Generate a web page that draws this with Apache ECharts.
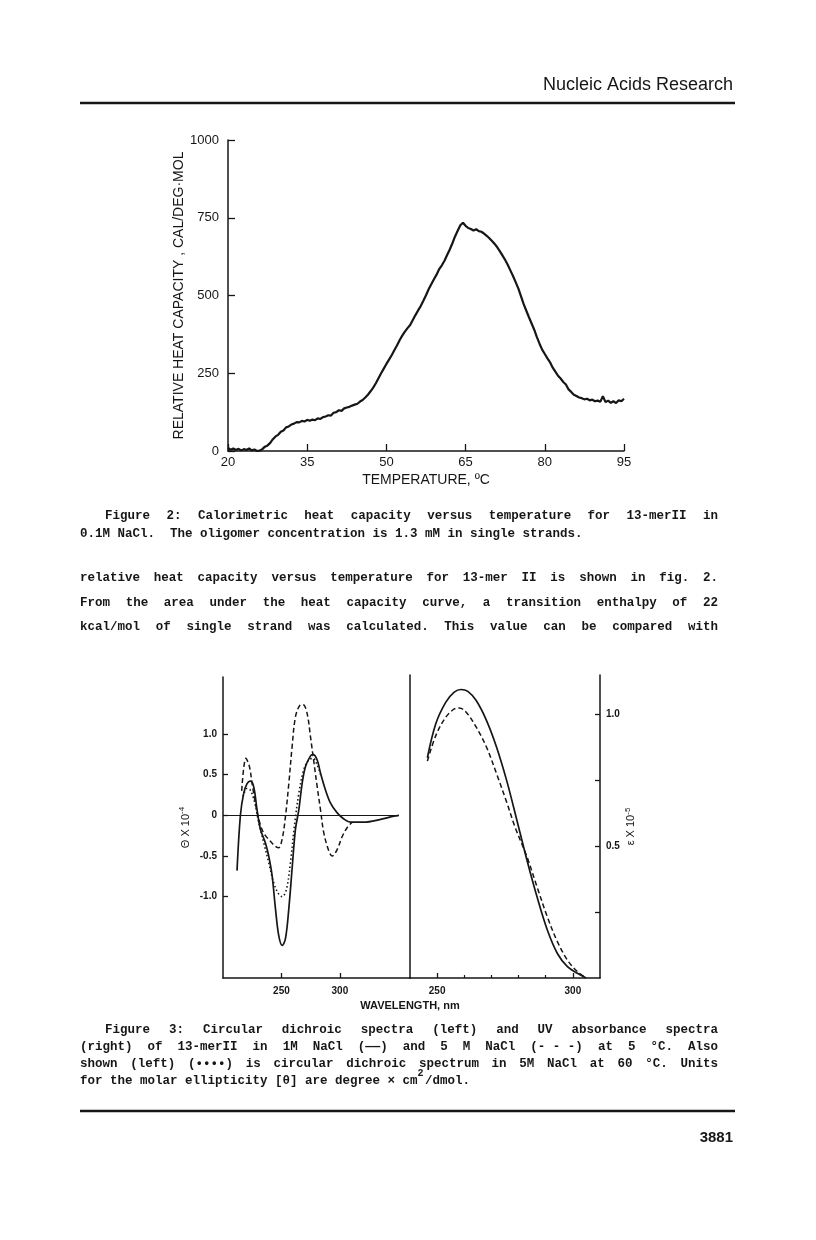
<!DOCTYPE html>
<html>
<head>
<meta charset="utf-8">
<script src="https://cdn.jsdelivr.net/npm/echarts@6/dist/echarts.min.js"></script>
<style>
  html, body { margin: 0; padding: 0; background: #fff; }
  #page { width: 816px; height: 1240px; }
</style>
</head>
<body>
<div id="page"></div>
<script>
// Figure 2: calorimetric heat capacity
const temps = [20, 20.5, 21, 21.5, 22, 22.5, 23, 23.5, 24, 24.5, 25, 25.5, 26, 26.5, 27, 27.5, 28, 28.5, 29, 29.5,
  30, 30.5, 31, 31.5, 32, 32.5, 33, 33.5, 34, 34.5, 35, 35.5, 36, 36.5, 37, 37.5, 38, 38.5, 39, 39.5,
  40, 40.5, 41, 41.5, 42, 42.5, 43, 43.5, 44, 44.5, 45, 45.5, 46, 46.5, 47, 47.5, 48, 48.5, 49, 49.5,
  50, 50.5, 51, 51.5, 52, 52.5, 53, 53.5, 54, 54.5, 55, 55.5, 56, 56.5, 57, 57.5, 58, 58.5, 59, 59.5,
  60, 60.5, 61, 61.5, 62, 62.5, 63, 63.5, 64, 64.5, 65, 65.5, 66, 66.5, 67, 67.5, 68, 68.5, 69, 69.5,
  70, 70.5, 71, 71.5, 72, 72.5, 73, 73.5, 74, 74.5, 75, 75.5, 76, 76.5, 77, 77.5, 78, 78.5, 79, 79.5,
  80, 80.5, 81, 81.5, 82, 82.5, 83, 83.5, 84, 84.5, 85, 85.5, 86, 86.5, 87, 87.5, 88, 88.5, 89, 89.5,
  90, 90.5, 91, 91.5, 92, 92.5, 93, 93.5, 94, 94.5, 95];
const heatCap = [10, 4, 8, 3, 7, 2, 6, 3, 8, 2, 5, 0, 1, 6, 14, 18, 26, 38, 47, 52,
  62, 66, 76, 79, 85, 88, 93, 92, 97, 95, 100, 97, 101, 99, 105, 103, 109, 111, 115, 114,
  123, 125, 131, 129, 137, 140, 142, 146, 149, 152, 159, 164, 172, 181, 192, 204, 218, 234, 250, 265,
  280, 294, 308, 324, 339, 356, 371, 384, 395, 405, 421, 437, 452, 466, 483, 501, 520, 536, 552, 567,
  585, 597, 612, 630, 648, 668, 690, 708, 726, 734, 724, 717, 714, 709, 713, 707, 705, 699, 692, 684,
  675, 666, 655, 642, 628, 614, 598, 580, 562, 542, 522, 497, 472, 451, 430, 410, 390, 366, 345, 326,
  312, 298, 285, 268, 255, 242, 233, 222, 214, 198, 190, 181, 177, 172, 170, 166, 168, 163, 165, 160,
  162, 158, 176, 157, 162, 155, 160, 154, 163, 160, 168];
const tempTicks = [20, 35, 50, 65, 80, 95];

// Figure 3 left: circular dichroism (theta x 10^-4)
const cdWl1M = [212, 214.9, 217.7, 220.6, 223.4, 226.3, 229.1, 232, 236.3, 239.1, 242, 244.9, 247.7, 250.6, 253.4,
  256.3, 259.1, 262, 264.9, 267.7, 270.6, 274.9, 277.1, 280.6, 283.4, 287.7, 292, 297.7, 303.4, 309.1, 320.6, 334.9, 346.3, 350.6];
const cd1M = [-0.68, 0, 0.27, 0.39, 0.42, 0.35, 0.07, -0.17, -0.34, -0.5, -0.74, -1.15, -1.48, -1.6, -1.52,
  -1.15, -0.66, -0.17, 0.07, 0.39, 0.6, 0.73, 0.75, 0.68, 0.52, 0.31, 0.15, 0.03, -0.045, -0.085, -0.085, -0.05, -0.01, 0];
const cdWl5M = [216, 219.6, 222.6, 224.9, 227.7, 230.6, 234.9, 240.6, 244, 247.5, 250.5, 253.4, 256.3, 259.1, 262,
  265.7, 268.6, 272, 274.9, 277.7, 280.6, 283.4, 286.3, 290.6, 293.4, 297.7, 302, 306.3, 310.6];
const cd5M = [0.3, 0.7, 0.6, 0.39, 0.15, -0.05, -0.22, -0.32, -0.37, -0.4, -0.3, -0.02, 0.39, 0.84, 1.21,
  1.35, 1.36, 1.25, 0.96, 0.66, 0.35, 0.07, -0.22, -0.44, -0.5, -0.42, -0.26, -0.15, -0.085];
const cdWlHot = [217.1, 220.6, 223.4, 226.9, 230.6, 234.9, 239.1, 243.4, 247.7, 250.6, 254.3, 257.7, 261.1, 264.9,
  269.1, 273.4, 277.1, 280.6, 283.4];
const cdHot = [0.23, 0.33, 0.31, 0.17, -0.09, -0.34, -0.58, -0.83, -0.97, -1.0, -0.91, -0.58, -0.13, 0.27,
  0.56, 0.68, 0.7, 0.62, 0.5];
const cdTicks = [-1, -0.5, 0, 0.5, 1];
const cdWlTicks = [250, 300];

// Figure 3 right: UV absorbance (epsilon x 10^-5)
const uvWl1M = [246.4, 249.5, 253.2, 256.3, 258.8, 261.3, 264.4, 268.2, 271.9, 275.6, 279.4, 283.1, 286.8, 290.6, 294.3, 298, 301.7, 304.9];
const uv1M = [0.836, 0.965, 1.047, 1.085, 1.095, 1.088, 1.053, 0.977, 0.876, 0.75, 0.598, 0.447, 0.308, 0.182, 0.093, 0.043, 0.018, 0];
const uvWl5M = [246.4, 249.5, 253.2, 256.3, 258.2, 260.7, 264.4, 268.2, 271.9, 275.6, 278.7, 283.1, 286.8, 290.6, 294.3, 298, 301.7, 304.9];
const uv5M = [0.823, 0.92, 0.99, 1.021, 1.025, 1.009, 0.952, 0.876, 0.775, 0.668, 0.573, 0.46, 0.346, 0.232, 0.138, 0.068, 0.024, 0];
const uvTicks = [0.25, 0.5, 0.75, 1];
const uvLabels = [0.5, 1];
const uvWlMajor = [250, 300];
const uvWlMinor = [260, 270, 280, 290];

// page text
const fig2Caption = [
  'Figure 2: Calorimetric heat capacity versus temperature for  13-merII  in',
  '0.1M NaCl.  The oligomer concentration is 1.3 mM in single strands.'
];
const bodyText = [
  'relative heat capacity versus temperature for 13-mer II is shown in fig.  2.',
  'From the area under the heat capacity curve, a transition enthalpy of 22',
  'kcal/mol of single strand was calculated.  This value can be compared with'
];
const fig3Caption = [
  'Figure 3: Circular dichroic spectra (left) and UV absorbance spectra',
  '(right) of 13-merII in 1M NaCl (\u2014\u2014) and 5 M NaCl (-\u00a0-\u00a0-) at 5 \u00b0C. Also',
  'shown (left) (\u2022\u2022\u2022\u2022) is circular dichroic spectrum in 5M NaCl at 60 \u00b0C. Units',
  'for the molar ellipticity [\u03b8] are degree \u00d7 cm /dmol.'
];

const zip = (xs, ys) => xs.map((x, i) => [x, ys[i]]);

const INK = '#161616';
const SANS = '"Liberation Sans", Arial, sans-serif';
const MONO = '"Liberation Mono", monospace';
const MONO_SIZE = 12.5;
const CW = MONO_SIZE * 0.6;

function textEl(str, x, y, opts) {
  return {
    type: 'text', x: x, y: y, silent: true,
    style: Object.assign({
      text: str, fill: INK, fontFamily: MONO, fontSize: MONO_SIZE, fontWeight: 'bold',
      verticalAlign: 'middle', align: 'left'
    }, opts || {})
  };
}

// spread words over [x0, x1] like the typeset justified lines
function justified(line, x0, x1, y) {
  const words = line.split(/ +/);
  const chars = words.reduce((s, w) => s + w.length, 0);
  const gap = (x1 - x0 - chars * CW) / (words.length - 1);
  let x = x0;
  return words.map(w => {
    const el = textEl(w, x, y);
    x += w.length * CW + gap;
    return el;
  });
}

const graphics = [];
graphics.push(textEl('Nucleic Acids Research', 733, 85, { fontFamily: SANS, fontSize: 18, fontWeight: 'normal', align: 'right' }));
graphics.push({ type: 'line', silent: true, shape: { x1: 80, y1: 103, x2: 735, y2: 103 }, style: { stroke: INK, lineWidth: 2.5 } });

graphics.push(...justified(fig2Caption[0], 105, 718, 516));
graphics.push(textEl(fig2Caption[1], 80, 534));

graphics.push(...justified(bodyText[0], 80, 718, 578));
graphics.push(...justified(bodyText[1], 80, 718, 603));
graphics.push(...justified(bodyText[2], 80, 718, 627));

graphics.push(textEl('WAVELENGTH, nm', 410, 1006, { fontFamily: SANS, fontSize: 11, align: 'center' }));

graphics.push(...justified(fig3Caption[0], 105, 718, 1030));
graphics.push(...justified(fig3Caption[1], 80, 718, 1047));
graphics.push(...justified(fig3Caption[2], 80, 718, 1064));
graphics.push(textEl(fig3Caption[3], 80, 1081));
graphics.push(textEl('2', 80 + 45 * CW, 1073, { fontSize: 10 }));

graphics.push({ type: 'line', silent: true, shape: { x1: 80, y1: 1111, x2: 735, y2: 1111 }, style: { stroke: INK, lineWidth: 2.5 } });
graphics.push(textEl('3881', 733, 1138, { fontFamily: SANS, fontSize: 15, align: 'right' }));

const axisLine = { show: true, onZero: false, lineStyle: { color: INK, width: 1.5 } };
const fmt1 = v => (v === 0 ? '0' : v.toFixed(1));

const chart = echarts.init(document.getElementById('page'), null, { renderer: 'canvas' });
chart.setOption({
  animation: false,
  backgroundColor: '#fff',
  textStyle: { fontFamily: SANS, color: INK },
  graphic: { elements: graphics },
  grid: [
    { left: 228, top: 140, width: 396, height: 311 },
    { left: 223, top: 677, width: 187, height: 301 },
    { left: 410, top: 675, width: 190, height: 303 }
  ],
  xAxis: [
    {
      gridIndex: 0, type: 'value', min: 20, max: 95,
      axisLine: axisLine,
      axisTick: { inside: true, length: 7, customValues: tempTicks, lineStyle: { color: INK, width: 1.3 } },
      axisLabel: { customValues: tempTicks, fontSize: 13, color: INK, margin: 5 },
      splitLine: { show: false },
      name: 'TEMPERATURE, \u00baC', nameLocation: 'middle', nameGap: 22,
      nameTextStyle: { fontSize: 14, color: INK }
    },
    {
      gridIndex: 1, type: 'value', min: 200, max: 360,
      axisLine: axisLine,
      axisTick: { inside: true, length: 5, customValues: cdWlTicks, lineStyle: { color: INK, width: 1.3 } },
      axisLabel: { customValues: cdWlTicks, fontSize: 10, fontWeight: 'bold', color: INK, margin: 8 },
      splitLine: { show: false }
    },
    {
      gridIndex: 2, type: 'value', min: 240, max: 310,
      axisLine: axisLine,
      axisTick: { inside: true, length: 5, customValues: uvWlMajor, lineStyle: { color: INK, width: 1.3 } },
      axisLabel: { customValues: uvWlMajor, fontSize: 10, fontWeight: 'bold', color: INK, margin: 8 },
      splitLine: { show: false }
    },
    {
      gridIndex: 2, type: 'value', min: 240, max: 310, position: 'bottom',
      axisLine: { show: false, onZero: false },
      axisTick: { inside: true, length: 3, customValues: uvWlMinor, lineStyle: { color: INK, width: 1.2 } },
      axisLabel: { show: false },
      splitLine: { show: false }
    }
  ],
  yAxis: [
    {
      gridIndex: 0, type: 'value', min: 0, max: 1000, interval: 250,
      axisLine: axisLine,
      axisTick: { inside: true, length: 7, lineStyle: { color: INK, width: 1.3 } },
      axisLabel: { fontSize: 13, color: INK, margin: 9, formatter: v => String(v) },
      splitLine: { show: false },
      name: 'RELATIVE HEAT CAPACITY , CAL/DEG\u00b7MOL', nameLocation: 'middle', nameGap: 42,
      nameTextStyle: { fontSize: 14, color: INK }
    },
    {
      gridIndex: 1, type: 'value', min: -2, max: 1.7,
      axisLine: axisLine,
      axisTick: { inside: true, length: 5, customValues: cdTicks, lineStyle: { color: INK, width: 1.3 } },
      axisLabel: { customValues: cdTicks, formatter: fmt1, fontSize: 10, fontWeight: 'bold', color: INK, margin: 6 },
      splitLine: { show: false },
      name: '\u0398 X 10{sup|-4}', nameLocation: 'middle', nameGap: 30,
      nameTextStyle: { fontSize: 11, color: INK, rich: { sup: { fontSize: 8, padding: [0, 0, 7, 0] } } }
    },
    {
      gridIndex: 2, type: 'value', min: 0, max: 1.15, position: 'right',
      axisLine: axisLine,
      axisTick: { inside: true, length: 5, customValues: uvTicks, lineStyle: { color: INK, width: 1.3 } },
      axisLabel: { customValues: uvLabels, formatter: fmt1, fontSize: 10, fontWeight: 'bold', color: INK, margin: 6 },
      splitLine: { show: false },
      name: '\u03b5 X 10{sup|-5}', nameLocation: 'middle', nameGap: 22, nameRotate: 90,
      nameTextStyle: { fontSize: 11, color: INK, rich: { sup: { fontSize: 8, padding: [0, 0, 7, 0] } } }
    },
    {
      gridIndex: 2, type: 'value', min: 0, max: 1.15, position: 'left',
      axisLine: axisLine, axisTick: { show: false }, axisLabel: { show: false }, splitLine: { show: false }
    }
  ],
  series: [
    {
      type: 'line', xAxisIndex: 0, yAxisIndex: 0, data: zip(temps, heatCap),
      showSymbol: false, lineStyle: { color: INK, width: 2.2 }, silent: true
    },
    {
      type: 'line', xAxisIndex: 1, yAxisIndex: 1, data: zip(cdWl1M, cd1M), smooth: 0.35,
      showSymbol: false, lineStyle: { color: INK, width: 1.7 }, silent: true,
      markLine: {
        silent: true, symbol: 'none', label: { show: false },
        lineStyle: { color: INK, width: 1.2, type: 'solid' },
        data: [[{ coord: [200, 0] }, { coord: [350.6, 0] }]]
      }
    },
    {
      type: 'line', xAxisIndex: 1, yAxisIndex: 1, data: zip(cdWl5M, cd5M), smooth: 0.35,
      showSymbol: false, lineStyle: { color: INK, width: 1.5, type: [5, 3] }, silent: true
    },
    {
      type: 'line', xAxisIndex: 1, yAxisIndex: 1, data: zip(cdWlHot, cdHot), smooth: 0.35,
      showSymbol: false, lineStyle: { color: INK, width: 1.6, type: [1.5, 2.5] }, silent: true
    },
    {
      type: 'line', xAxisIndex: 2, yAxisIndex: 2, data: zip(uvWl1M, uv1M), smooth: 0.35,
      showSymbol: false, lineStyle: { color: INK, width: 1.7 }, silent: true
    },
    {
      type: 'line', xAxisIndex: 2, yAxisIndex: 2, data: zip(uvWl5M, uv5M), smooth: 0.35,
      showSymbol: false, lineStyle: { color: INK, width: 1.5, type: [5, 3] }, silent: true
    }
  ]
});
</script>
</body>
</html>
